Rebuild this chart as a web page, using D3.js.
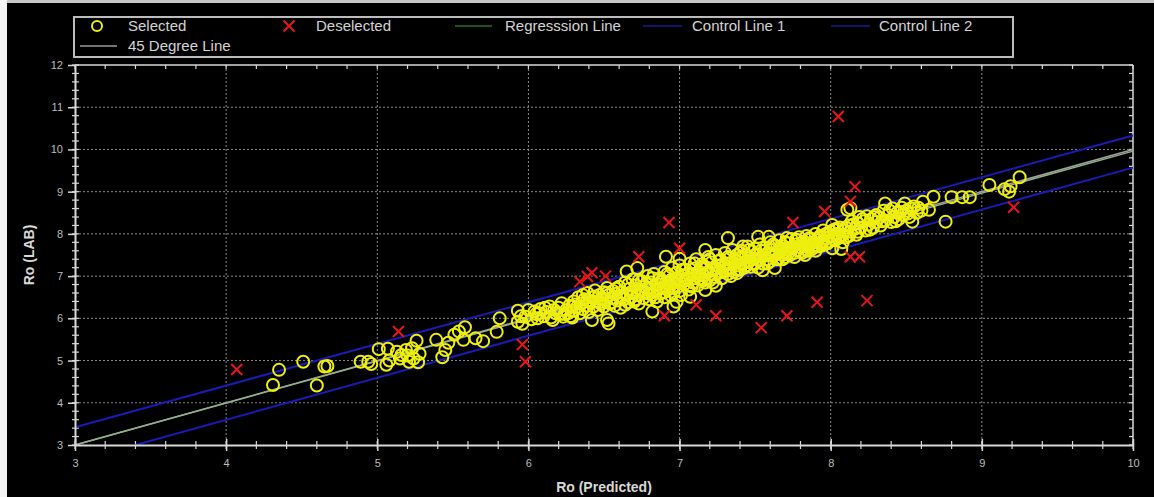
<!DOCTYPE html>
<html>
<head>
<meta charset="utf-8">
<script src="https://cdn.jsdelivr.net/npm/d3@7"></script>
<style>
  body { margin: 0; background: #000; }
  svg { display: block; }
</style>
</head>
<body>
<svg id="chart" width="1154" height="497"></svg>
<script>
// selected points [Ro predicted, Ro lab]
const selected = [
  [4.31,4.42],[4.35,4.78],[4.51,4.97],[4.60,4.41],[4.65,4.86],[4.67,4.87],[4.89,4.97],[4.94,4.97],
  [4.96,4.92],[5.01,5.27],[5.07,5.28],[5.06,4.90],[5.13,5.21],[5.16,5.13],[5.19,5.25],[5.23,5.29],
  [5.26,5.47],[5.28,5.16],[5.21,4.97],[5.27,4.96],[5.08,5.00],[5.15,5.05],[5.24,5.05],[5.20,5.12],
  [5.39,5.49],[5.43,5.08],[5.45,5.25],[5.47,5.42],[5.51,5.61],[5.54,5.69],[5.58,5.79],[5.57,5.49],
  [5.65,5.53],[5.70,5.46],[5.79,5.68],[5.81,6.00],[5.93,6.18],[5.93,5.92],[5.96,5.87],[5.98,6.04],
  [6.04,6.16],[6.07,6.12],[6.16,5.96],[6.23,6.04],[6.29,6.02],[6.42,5.96],[6.52,5.96],[6.53,5.88],
  [6.65,7.11],[6.72,7.19],[6.82,6.16],[6.91,7.46],[7.00,7.41],[6.94,6.55],[6.98,6.39],[6.96,6.28],
  [7.07,6.51],[7.17,7.62],[7.17,6.67],[7.24,6.77],[7.32,7.90],[7.38,7.07],[7.42,7.70],[7.52,7.93],
  [7.59,7.93],[7.63,7.19],[7.55,7.14],[7.71,7.90],[7.77,7.86],[7.83,7.50],[8.01,7.66],[8.07,7.64],
  [8.01,8.21],[8.11,8.57],[8.13,8.61],[8.36,8.72],[8.49,8.72],[8.61,8.76],[8.68,8.88],[8.65,8.57],
  [8.54,8.29],[8.80,8.87],[8.87,8.87],[8.92,8.87],[8.76,8.29],[9.05,9.16],[9.15,9.06],[9.19,9.13],
  [9.18,9.00],[9.25,9.34],
  // dense band
  [5.95,6.05],[6.00,6.20],[6.02,5.98],[6.05,6.10],[6.08,6.22],[6.10,6.05],
  [6.12,6.15],[6.14,6.28],[6.15,6.02],[6.18,6.12],[6.20,6.25],[6.22,6.36],[6.24,6.10],[6.25,6.20],
  [6.27,6.30],[6.28,6.05],[6.30,6.18],[6.30,6.40],
  [6.06,6.00],[6.11,6.25],[6.17,6.20],[6.21,6.10],[6.26,6.12],[6.29,6.28],
  [6.32,6.26],[6.33,6.50],[6.34,6.12],[6.35,6.35],[6.36,6.22],[6.37,6.45],[6.38,6.30],[6.39,6.60],
  [6.40,6.15],[6.41,6.38],[6.42,6.50],[6.43,6.28],[6.44,6.66],[6.45,6.40],[6.46,6.20],[6.47,6.55],
  [6.48,6.34],[6.49,6.47],[6.50,6.62],[6.50,6.28],
  [6.51,6.42],[6.52,6.72],[6.53,6.55],[6.54,6.35],[6.55,6.48],[6.56,6.65],[6.57,6.30],[6.58,6.58],
  [6.59,6.42],[6.60,6.75],[6.60,6.52],[6.61,6.25],[6.62,6.62],[6.63,6.45],[6.64,6.85],[6.65,6.55],
  [6.66,6.38],[6.67,6.70],[6.68,6.50],[6.69,6.92],[6.70,6.62],[6.70,6.40],
  [6.71,6.78],[6.72,6.55],[6.73,6.35],[6.74,6.68],[6.75,6.88],[6.76,6.48],[6.77,6.75],[6.78,6.60],
  [6.79,7.00],[6.80,6.45],[6.80,6.70],[6.81,6.85],[6.82,6.55],[6.83,7.05],[6.84,6.66],[6.85,6.40],
  [6.86,6.80],[6.87,6.95],[6.88,6.60],[6.89,6.72],[6.90,7.10],[6.90,6.50],
  [6.91,6.85],[6.92,6.68],[6.93,7.00],[6.94,6.78],[6.95,7.20],[6.96,6.60],[6.97,6.92],[6.98,7.08],
  [6.99,6.75],[7.00,6.88],[7.00,7.25],[7.01,6.55],[7.02,7.02],[7.03,6.80],[7.04,7.15],[7.05,6.95],
  [7.06,6.68],[7.07,7.30],[7.08,7.05],[7.09,6.85],[7.10,7.18],[7.10,6.95],
  [7.11,7.40],[7.12,6.78],[7.13,7.10],[7.14,6.95],[7.15,7.28],[7.16,7.02],[7.17,6.85],[7.18,7.20],
  [7.19,7.45],[7.20,7.05],[7.20,6.90],[7.21,7.32],[7.22,7.15],[7.23,6.98],[7.24,7.50],[7.25,7.25],
  [7.26,7.08],[7.27,7.38],[7.28,6.95],[7.29,7.20],[7.30,7.55],[7.30,7.12],
  [7.31,7.30],[7.32,7.05],[7.33,7.42],[7.34,7.20],[7.35,7.62],[7.36,7.10],[7.37,7.35],[7.38,7.50],
  [7.39,7.25],[7.40,7.15],[7.40,7.42],[7.41,7.60],[7.42,7.30],[7.43,7.20],[7.44,7.50],[7.45,7.70],
  [7.46,7.35],[7.47,7.22],[7.48,7.58],[7.49,7.42],[7.50,7.30],[7.50,7.65],
  [7.51,7.50],[7.52,7.38],[7.53,7.75],[7.54,7.60],[7.55,7.30],[7.56,7.48],[7.57,7.68],[7.58,7.40],
  [7.59,7.55],[7.60,7.80],[7.60,7.35],[7.61,7.62],[7.62,7.48],[7.63,7.72],[7.64,7.52],[7.65,7.40],
  [7.66,7.85],[7.67,7.60],[7.68,7.50],[7.69,7.70],[7.70,7.58],[7.70,7.45],
  [7.71,7.78],[7.72,7.62],[7.73,7.50],[7.74,7.88],[7.75,7.70],[7.76,7.55],[7.77,7.75],[7.78,7.62],
  [7.79,7.92],[7.80,7.68],[7.81,7.55],[7.82,7.82],[7.83,7.70],[7.84,7.95],[7.85,7.60],[7.86,7.78],
  [7.87,7.88],[7.88,7.65],[7.89,7.80],[7.90,8.00],[7.90,7.72],
  [7.91,7.85],[7.92,7.70],[7.93,7.95],[7.94,7.80],[7.95,8.08],[7.96,7.75],[7.97,7.90],[7.98,8.02],
  [7.99,7.82],[8.00,7.95],[8.02,8.10],[8.03,7.85],[8.04,8.00],[8.05,7.90],[8.06,8.15],[8.08,7.98],
  [8.09,8.08],[8.10,7.92],
  [8.12,8.20],[8.13,8.05],[8.14,8.30],[8.16,8.12],[8.17,7.98],[8.18,8.25],[8.19,8.40],[8.20,8.15],
  [8.22,8.30],[8.23,8.08],[8.24,8.42],[8.25,8.22],[8.27,8.35],[8.28,8.15],[8.30,8.45],[8.30,8.28],
  [8.32,8.38],[8.33,8.20],[8.35,8.55],[8.36,8.32],[8.38,8.45],[8.40,8.28],[8.41,8.60],[8.42,8.40],
  [8.44,8.50],[8.45,8.35],[8.47,8.62],[8.48,8.45],[8.50,8.55],[8.52,8.40],[8.55,8.65],[8.57,8.50],
  // second pass over the solid part of the band
  [6.31,6.33],[6.36,6.55],[6.39,6.42],[6.44,6.52],[6.47,6.38],[6.52,6.60],[6.55,6.38],[6.58,6.70],
  [6.62,6.50],[6.64,6.32],[6.66,6.80],[6.68,6.62],[6.71,6.45],[6.73,6.90],[6.76,6.62],[6.78,6.82],
  [6.80,6.58],[6.82,6.95],[6.84,6.50],[6.86,6.70],[6.88,6.88],[6.90,6.62],[6.92,7.05],[6.94,6.90],
  [6.96,6.72],[6.98,6.95],[7.00,6.65],[7.02,7.15],[7.04,6.90],[7.06,7.05],[7.08,6.75],[7.10,7.30],
  [7.12,7.00],[7.14,7.20],[7.16,6.90],[7.18,7.08],[7.20,7.40],[7.22,6.85],[7.24,7.18],[7.26,7.35],
  [7.28,7.10],[7.30,7.25],[7.32,7.45],[7.34,7.00],[7.36,7.30],[7.38,7.15],[7.40,7.55],[7.42,7.40],
  [7.44,7.25],[7.46,7.62],[7.48,7.30],[7.50,7.50],[7.52,7.20],[7.54,7.45],[7.56,7.60],[7.58,7.30],
  [7.60,7.50],[7.62,7.75],[7.64,7.40],[7.66,7.65],[7.68,7.40],[7.70,7.80],[7.72,7.55],[7.74,7.68],
  [7.76,7.45],[7.78,7.85],[7.80,7.58],[7.82,7.75],[7.84,7.62],[7.86,7.90],[7.88,7.72],[7.90,7.60],
  [7.92,7.90],[7.94,7.72],[7.96,7.98],[7.98,7.78],[8.00,8.05],[8.02,7.88],[8.04,8.12],[8.06,7.95],
  [8.08,7.80],[8.10,8.15],[8.12,7.95],[8.15,8.22],[8.18,8.05],[8.21,8.35],[8.26,8.10],[8.29,8.40],
  [8.34,8.30],[8.39,8.55],[8.43,8.30],[8.46,8.52],[8.51,8.48],[8.53,8.60],[8.58,8.62],[8.60,8.55]
];

// deselected points
const deselected = [
  [4.07,4.79],[5.14,5.69],[5.96,5.38],[5.98,4.97],[6.34,6.87],[6.39,6.99],[6.42,7.08],[6.51,7.00],
  [6.73,7.46],[6.93,8.27],[7.00,7.66],[7.11,6.32],[6.90,6.06],[7.24,6.06],[7.54,5.78],[7.71,6.06],
  [7.75,8.27],[7.91,6.38],[8.05,10.78],[7.96,8.53],[8.13,8.77],[8.16,9.12],[8.13,7.46],[8.19,7.46],
  [8.24,6.42],[9.21,8.63]
];

// line end points
const degreeLine = [[3, 3], [10, 10]];
const regressionLine = [[3, 3], [10, 9.96]];
const controlLine1 = [[3, 3.42], [10, 10.33]];
const controlLine2 = [[3.4, 3], [10, 9.57]];

const xTicks = [3, 4, 5, 6, 7, 8, 9, 10];
const yTicks = [3, 4, 5, 6, 7, 8, 9, 10, 11, 12];

const svg = d3.select("#chart");
const W = 1154, H = 497;
const plotL = 75, plotR = 1133, plotT = 65, plotB = 445;
const font = "'Liberation Sans', Arial, sans-serif";
const axisColor = "#d8d8d8";

svg.append("rect").attr("width", W).attr("height", H).attr("fill", "#000");
// light frame of the screenshot
svg.append("rect").attr("width", W).attr("height", 3).attr("fill", "#c8c8c8");
svg.append("rect").attr("width", 7).attr("height", H).attr("fill", "#f4f4f4");

const x = d3.scaleLinear().domain([3, 10]).range([plotL, plotR]);
const y = d3.scaleLinear().domain([3, 12]).range([plotB, plotT]);

// grid
const grid = svg.append("g");
grid.selectAll(".gx").data(xTicks.slice(1, -1)).enter().append("line")
  .attr("x1", d => x(d)).attr("x2", d => x(d))
  .attr("y1", plotT).attr("y2", plotB)
  .attr("stroke", "#8a8a8a").attr("stroke-width", 1).attr("stroke-dasharray", "2,2");
grid.selectAll(".gy").data(yTicks.slice(1, -1)).enter().append("line")
  .attr("x1", plotL).attr("x2", plotR)
  .attr("y1", d => y(d)).attr("y2", d => y(d))
  .attr("stroke", "#8a8a8a").attr("stroke-width", 1).attr("stroke-dasharray", "2,2");

// minor ticks
const xMinor = d3.range(30, 101, 2).map(d => d / 10);
const yMinor = d3.range(30, 121, 2).map(d => d / 10);

const frame = svg.append("g");
frame.append("line").attr("x1", plotL).attr("x2", plotR).attr("y1", plotT).attr("y2", plotT)
  .attr("stroke", axisColor).attr("stroke-width", 1.5);
frame.append("line").attr("x1", plotR).attr("x2", plotR).attr("y1", plotT).attr("y2", plotB)
  .attr("stroke", axisColor).attr("stroke-width", 1.5);
frame.selectAll(".tt").data(xMinor).enter().append("line")
  .attr("x1", d => x(d)).attr("x2", d => x(d)).attr("y1", plotT).attr("y2", plotT + 4)
  .attr("stroke", axisColor).attr("stroke-width", 1.2);
frame.selectAll(".rt").data(yMinor).enter().append("line")
  .attr("x1", plotR - 4).attr("x2", plotR).attr("y1", d => y(d)).attr("y2", d => y(d))
  .attr("stroke", axisColor).attr("stroke-width", 1.2);
// bottom and left minor ticks crossing the axis
frame.selectAll(".bt").data(xMinor).enter().append("line")
  .attr("x1", d => x(d)).attr("x2", d => x(d)).attr("y1", plotB - 4).attr("y2", plotB + 4)
  .attr("stroke", axisColor).attr("stroke-width", 1.2);
frame.selectAll(".lt").data(yMinor).enter().append("line")
  .attr("x1", plotL - 3).attr("x2", plotL + 4).attr("y1", d => y(d)).attr("y2", d => y(d))
  .attr("stroke", axisColor).attr("stroke-width", 1.2);

// reference lines
const line = d3.line().x(d => x(d[0])).y(d => y(d[1]));
svg.append("path").datum(degreeLine).attr("d", line)
  .attr("stroke", "#a0a0a0").attr("stroke-width", 1.5).attr("fill", "none");
svg.append("path").datum(regressionLine).attr("d", line)
  .attr("stroke", "#8fb08a").attr("stroke-width", 1.5).attr("fill", "none");
svg.append("path").datum(controlLine1).attr("d", line)
  .attr("stroke", "#1a1ab4").attr("stroke-width", 2).attr("fill", "none");
svg.append("path").datum(controlLine2).attr("d", line)
  .attr("stroke", "#1a1ab4").attr("stroke-width", 2).attr("fill", "none");

// selected circles
svg.append("g").selectAll("circle").data(selected).enter().append("circle")
  .attr("cx", d => x(d[0])).attr("cy", d => y(d[1])).attr("r", 6)
  .attr("fill", "none").attr("stroke", "#eeee10").attr("stroke-width", 2);

// deselected crosses
const cross = (g, s) => g.append("path")
  .attr("d", `M${-s},${-s}L${s},${s}M${-s},${s}L${s},${-s}`)
  .attr("stroke", "#e8141c").attr("stroke-width", 2).attr("fill", "none");
svg.append("g").selectAll("g").data(deselected).enter().append("g")
  .attr("transform", d => `translate(${x(d[0])},${y(d[1])})`)
  .each(function () { cross(d3.select(this), 5.5); });

// axes
const xAxis = d3.axisBottom(x).tickValues(xTicks).tickFormat(d3.format("d")).tickSize(6).tickSizeOuter(0);
const gx = svg.append("g").attr("transform", `translate(0,${plotB})`).call(xAxis);
gx.select(".domain").attr("stroke", axisColor).attr("stroke-width", 2);
gx.selectAll(".tick line").attr("stroke", axisColor).attr("stroke-width", 1.5).attr("y1", -6);
gx.selectAll(".tick text").attr("fill", "#bdbdbd").attr("font-family", font).attr("font-size", 11).attr("dy", "1.2em");

const yAxis = d3.axisLeft(y).tickValues(yTicks).tickFormat(d3.format("d")).tickSize(7).tickSizeOuter(0);
const gy = svg.append("g").attr("transform", `translate(${plotL},0)`).call(yAxis);
gy.select(".domain").attr("stroke", axisColor).attr("stroke-width", 2);
gy.selectAll(".tick line").attr("stroke", axisColor).attr("stroke-width", 1.5);
gy.selectAll(".tick text").attr("fill", "#bdbdbd").attr("font-family", font).attr("font-size", 11).attr("x", -12);

// axis titles
svg.append("text").attr("x", (plotL + plotR) / 2).attr("y", 492).attr("text-anchor", "middle")
  .attr("font-family", font).attr("font-size", 14).attr("font-weight", "bold").attr("fill", "#d8d8d8")
  .text("Ro (Predicted)");
svg.append("text").attr("transform", `translate(34,${(plotT + plotB) / 2}) rotate(-90)`)
  .attr("text-anchor", "middle").attr("font-family", font).attr("font-size", 14)
  .attr("font-weight", "bold").attr("fill", "#d8d8d8").text("Ro (LAB)");

// legend
const legend = svg.append("g");
legend.append("rect").attr("x", 74).attr("y", 17).attr("width", 939).attr("height", 40)
  .attr("fill", "none").attr("stroke", "#bcbcbc").attr("stroke-width", 2);
const legText = (tx, ty, t) => legend.append("text").attr("x", tx).attr("y", ty)
  .attr("font-family", font).attr("font-size", 15).attr("fill", "#d4d4d4").text(t);
legend.append("circle").attr("cx", 97).attr("cy", 26).attr("r", 5)
  .attr("fill", "none").attr("stroke", "#eeee10").attr("stroke-width", 2);
legText(128, 31, "Selected");
cross(legend.append("g").attr("transform", "translate(289,26)"), 5.5);
legText(316, 31, "Deselected");
legend.append("line").attr("x1", 455).attr("x2", 492).attr("y1", 26).attr("y2", 26)
  .attr("stroke", "#2f6a2f").attr("stroke-width", 1.5);
legText(505, 31, "Regresssion Line");
legend.append("line").attr("x1", 643).attr("x2", 682).attr("y1", 26).attr("y2", 26)
  .attr("stroke", "#1a1a8a").attr("stroke-width", 1.5);
legText(692, 31, "Control Line 1");
legend.append("line").attr("x1", 831).attr("x2", 870).attr("y1", 26).attr("y2", 26)
  .attr("stroke", "#1a1a8a").attr("stroke-width", 1.5);
legText(879, 31, "Control Line 2");
legend.append("line").attr("x1", 80).attr("x2", 117).attr("y1", 46).attr("y2", 46)
  .attr("stroke", "#9a9a9a").attr("stroke-width", 1.5);
legText(128, 51, "45 Degree Line");
</script>
</body>
</html>
